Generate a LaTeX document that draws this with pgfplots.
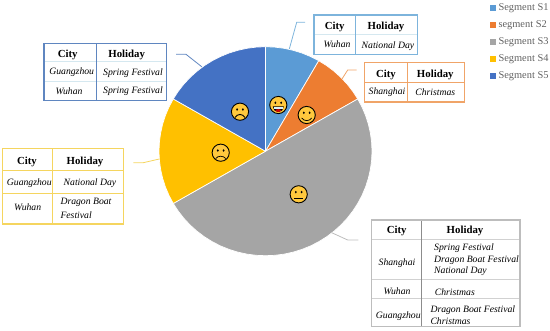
\documentclass[border=0pt]{standalone}
\usepackage{fontspec}
\setmainfont{Liberation Serif}
\usepackage{pgfplots}
\pgfplotsset{compat=1.18}
\usepgfplotslibrary{polar}
\definecolor{sa}{HTML}{5B9BD5}
\definecolor{sb}{HTML}{ED7D31}
\definecolor{sc}{HTML}{A5A5A5}
\definecolor{sd}{HTML}{FFC000}
\definecolor{se}{HTML}{4472C4}
\definecolor{ta}{HTML}{7DB4DC}
\definecolor{tb}{HTML}{F0A468}
\definecolor{tc}{HTML}{BDBDBD}
\definecolor{td}{HTML}{F5D55F}
\definecolor{te}{HTML}{5F86C0}
\definecolor{tl}{HTML}{D5E8F0}
\definecolor{face}{HTML}{FFC83D}
\newcommand{\hd}[3]{\node[font=\fontsize{10.8}{12}\selectfont\bfseries] at (#1,#2) {#3};}
\newcommand{\ce}[3]{\node[font=\fontsize{9.7}{12}\selectfont\itshape] at (#1,#2) {#3};}
\newcommand{\lf}[3]{\node[font=\fontsize{9.7}{12}\selectfont\itshape,anchor=west,inner sep=0pt] at (#1,#2) {#3};}
\newcommand{\faceb}[2]{\fill[face,draw=black,line width=0.9pt] (#1,#2) circle (8.6);
  \fill[black] (#1-2.9,#2-2.2) ellipse (1 and 1.3); \fill[black] (#1+2.9,#2-2.2) ellipse (1 and 1.3);}
\begin{document}
\begin{tikzpicture}
\useasboundingbox (0,0) rectangle (550pt,330pt);
\begin{axis}[at={(0pt,0pt)},anchor=south west,scale only axis,width=550pt,height=330pt,
  xmin=-265.5,xmax=284.5,ymin=-182.2,ymax=154.1,hide axis,clip=false,
  legend cell align=left,
  legend image code/.code={\fill[#1] (2pt,-2.6pt) rectangle (7.2pt,2.6pt);\path (9.2pt,0pt);},
  legend style={at={(axis cs:224,151.7)},anchor=north west,draw=none,fill=none,
    font=\fontsize{10.4}{12}\selectfont,text=black!62,row sep=6.1pt,inner sep=0pt,
    nodes={inner sep=1.2pt}}]
\addplot[data cs=polar,fill=sa,draw=white,line width=0.7pt,forget plot] coordinates {(0,0) (90,106.5) (85,106.5) (80,106.5) (75,106.5) (70,106.5) (65,106.5) (60,106.5)} --cycle;
\addplot[data cs=polar,fill=sb,draw=white,line width=0.7pt,forget plot] coordinates {(0,0) (60,106.5) (55,106.5) (50,106.5) (45,106.5) (40,106.5) (35,106.5) (30,106.5)} --cycle;
\addplot[data cs=polar,fill=sc,draw=white,line width=0.7pt,forget plot] coordinates {(0,0) (30,106.5) (25,106.5) (20,106.5) (15,106.5) (10,106.5) (5,106.5) (0,106.5) (-5,106.5) (-10,106.5) (-15,106.5) (-20,106.5) (-25,106.5) (-30,106.5) (-35,106.5) (-40,106.5) (-45,106.5) (-50,106.5) (-55,106.5) (-60,106.5) (-65,106.5) (-70,106.5) (-75,106.5) (-80,106.5) (-85,106.5) (-90,106.5) (-95,106.5) (-100,106.5) (-105,106.5) (-110,106.5) (-115,106.5) (-120,106.5) (-125,106.5) (-130,106.5) (-135,106.5) (-140,106.5) (-145,106.5) (-150,106.5)} --cycle;
\addplot[data cs=polar,fill=sd,draw=white,line width=0.7pt,forget plot] coordinates {(0,0) (210,106.5) (205,106.5) (200,106.5) (195,106.5) (190,106.5) (185,106.5) (180,106.5) (175,106.5) (170,106.5) (165,106.5) (160,106.5) (155,106.5) (150,106.5)} --cycle;
\addplot[data cs=polar,fill=se,draw=white,line width=0.7pt,forget plot] coordinates {(0,0) (150,106.5) (145,106.5) (140,106.5) (135,106.5) (130,106.5) (125,106.5) (120,106.5) (115,106.5) (110,106.5) (105,106.5) (100,106.5) (95,106.5) (90,106.5)} --cycle;
\addlegendimage{sa}\addlegendentry{Segment S1}
\addlegendimage{sb}\addlegendentry{segment S2}
\addlegendimage{sc}\addlegendentry{Segment S3}
\addlegendimage{sd}\addlegendentry{Segment S4}
\addlegendimage{se}\addlegendentry{Segment S5}
\end{axis}
\begin{scope}[x=1pt,y=-1pt,shift={(0pt,330pt)}]
% leader lines
\draw[te,line width=0.8pt] (176,54.3)--(186,54.3)--(201.7,66.7);
\draw[ta,line width=0.8pt] (305,22.3)--(296.7,22.3)--(289.3,49);
\draw[tb,line width=0.8pt] (356.7,70)--(347.7,70)--(342,79);
\draw[td,line width=0.8pt] (133.3,162.7)--(143.3,162.7)--(159.3,159);
\draw[tc,line width=0.8pt] (358.3,240)--(347.7,240)--(331.7,232.7);
% table S5
\draw[tl,line width=0.7pt] (44,61.7)--(166.3,61.7) (44,81.7)--(166.3,81.7);
\draw[te,line width=0.8pt] (96.7,43.7)--(96.7,100.3);
\draw[te,line width=1.3pt] (44,43.7) rectangle (166.3,100.3);
\hd{67.7}{55}{City}\hd{126.7}{55}{Holiday}
\ce{71.7}{72.5}{Guangzhou}\ce{133}{72.7}{Spring Festival}
\ce{69}{91}{Wuhan}\ce{133}{91}{Spring Festival}
% table S1
\draw[tl,line width=0.7pt] (314,34.3)--(417.7,34.3);
\draw[ta,line width=0.8pt] (355.3,15)--(355.3,54.3);
\draw[ta,line width=1.3pt] (314,15) rectangle (417.7,54.3);
\hd{334.7}{27.3}{City}\hd{386}{27}{Holiday}
\ce{337}{44.3}{Wuhan}\ce{388}{46}{National Day}
% table S2
\draw[tb,line width=0.7pt] (364.3,82.3)--(464.3,82.3) (407.3,62.3)--(407.3,102);
\draw[tb,line width=1.3pt] (364.3,62.3) rectangle (464.3,102);
\hd{386}{75}{City}\hd{435.3}{75}{Holiday}
\ce{387}{92.3}{Shanghai}\ce{435.3}{92}{Christmas}
% table S4
\draw[td,line width=0.7pt] (2.7,170.7)--(123.7,170.7) (2.7,193.3)--(123.7,193.3) (52.3,148.7)--(52.3,224);
\draw[td,line width=1.3pt] (2.7,148.7) rectangle (123.7,224);
\hd{27}{161.7}{City}\hd{85}{162.3}{Holiday}
\ce{29.3}{182.7}{Guangzhou}\ce{90}{182.7}{National Day}
\ce{27.7}{207.7}{Wuhan}\lf{60.3}{202.7}{Dragon Boat}\lf{60.3}{214.7}{Festival}
% table S3
\draw[tc!70,line width=0.7pt] (371.7,239)--(520,239) (371.7,279.3)--(520,279.3) (371.7,298.7)--(520,298.7);
\draw[black!45,line width=0.6pt] (421.7,220)--(421.7,326.7);
\draw[tc,line width=1.3pt] (371.7,220) rectangle (520,326.7);
\hd{396.7}{231}{City}\hd{465}{231}{Holiday}
\ce{397}{262.7}{Shanghai}
\lf{434}{247.7}{Spring Festival}\lf{434}{259.7}{Dragon Boat Festival}\lf{434}{271.3}{National Day}
\ce{397}{291.7}{Wuhan}\lf{434.7}{291.7}{Christmas}
\ce{398.3}{315.7}{Guangzhou}\lf{430.3}{309.7}{Dragon Boat Festival}\lf{430.3}{321.3}{Christmas}
% faces
\faceb{278.3}{105}
\fill[black] (272.8,106.5) arc (180:0:5.5) -- cycle;
\fill[white!85!cyan] (273.8,106.8) rectangle (282.8,108.6);
\fill[red!80!black] (278.3,110.5) ellipse (2.8 and 1.4);
\faceb{306.7}{115}
\draw[black,line width=0.7pt] (301.7,118) .. controls (304,121.5) and (309.4,121.5) .. (311.7,118);
\faceb{298.7}{194.3}
\draw[black,line width=0.9pt] (294,198.5)--(303.4,198.5);
\faceb{220.7}{152.7}
\draw[black,line width=0.7pt] (215.7,158.5) .. controls (218,155.5) and (223.4,155.5) .. (225.7,158.5);
\faceb{240}{111.7}
\draw[black,line width=0.9pt] (235,117.5) .. controls (237,113.5) and (243,113.5) .. (245,117.5);
\end{scope}
\end{tikzpicture}
\end{document}
